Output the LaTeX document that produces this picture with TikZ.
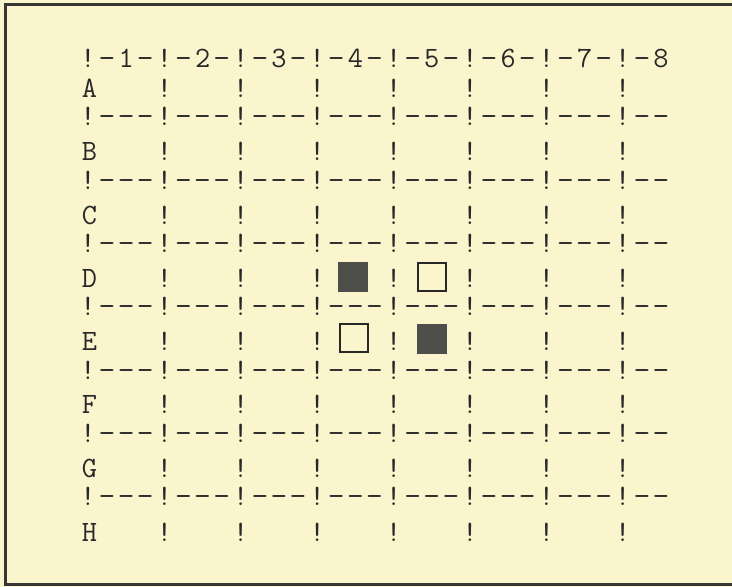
\documentclass[tikz,border=0pt]{standalone}
\usepackage{fontspec}
\definecolor{paper}{RGB}{250,245,205}
\definecolor{ink}{RGB}{40,40,40}
\definecolor{frame}{RGB}{55,55,55}
\definecolor{disc}{RGB}{78,79,75}
\newcommand\seprow[2]{%
  \foreach \c in {0,4,...,28} \node[ch] (#1-\c) at ({88+19.1*\c},#2) {!};
  \foreach \c in {1,2,3,5,6,7,9,10,11,13,14,15,17,18,19,21,22,23,25,26,27,29,30}
    \node[ch, dashch] (#1-\c) at ({88+19.1*\c},#2) {-};
}
\newcommand\letterrow[3]{%
  \node[ch] (#1-0) at (89.5,#3) {#2};
  \foreach \c in {4,8,...,28} \node[ch] (#1-\c) at ({88+19.1*\c},#3) {!};
}
\begin{document}
\begin{tikzpicture}[x=1pt,y=-1pt,
  ch/.style={anchor=base, inner sep=0pt, outer sep=0pt, text=ink,
    font=\ttfamily\fontsize{29.5}{31}\selectfont},
  dashch/.style={xscale=1.1},
  blackdisc/.style={draw=none, fill=disc, minimum size=30pt, inner sep=0pt},
  whitedisc/.style={draw=ink, line width=2pt, fill=paper, minimum size=28pt, inner sep=0pt}]
\useasboundingbox (0,0) rectangle (732,587);
\fill[paper] (0,0) rectangle (732,587);
\draw[frame, line width=3pt] (780,4.5) -- (5,4.5) -- (5,584) -- (780,584);
% header row
\foreach \c in {0,4,...,28} \node[ch] (h-\c) at ({88+19.1*\c},67) {!};
\foreach \c in {1,3,...,29} \node[ch, dashch] (h-\c) at ({88+19.1*\c},67) {-};
\foreach \k in {1,...,8} \node[ch] (h-d\k) at ({88+19.1*(4*\k-2)},67) {\k};
% board rows
\letterrow{rA}{A}{97}
\seprow{s1}{125.5}
\letterrow{rB}{B}{160.5}
\seprow{s2}{189}
\letterrow{rC}{C}{224}
\seprow{s3}{252}
\letterrow{rD}{D}{287}
\seprow{s4}{315}
\letterrow{rE}{E}{350}
\seprow{s5}{379}
\letterrow{rF}{F}{413}
\seprow{s6}{442}
\letterrow{rG}{G}{477.5}
\seprow{s7}{505.5}
\letterrow{rH}{H}{541}
% pieces
\node[blackdisc] (d4) at (353,276.5) {};
\node[whitedisc] (d5) at (431.5,277) {};
\node[whitedisc] (e4) at (354,338) {};
\node[blackdisc] (e5) at (431.5,338.5) {};
\end{tikzpicture}
\end{document}
